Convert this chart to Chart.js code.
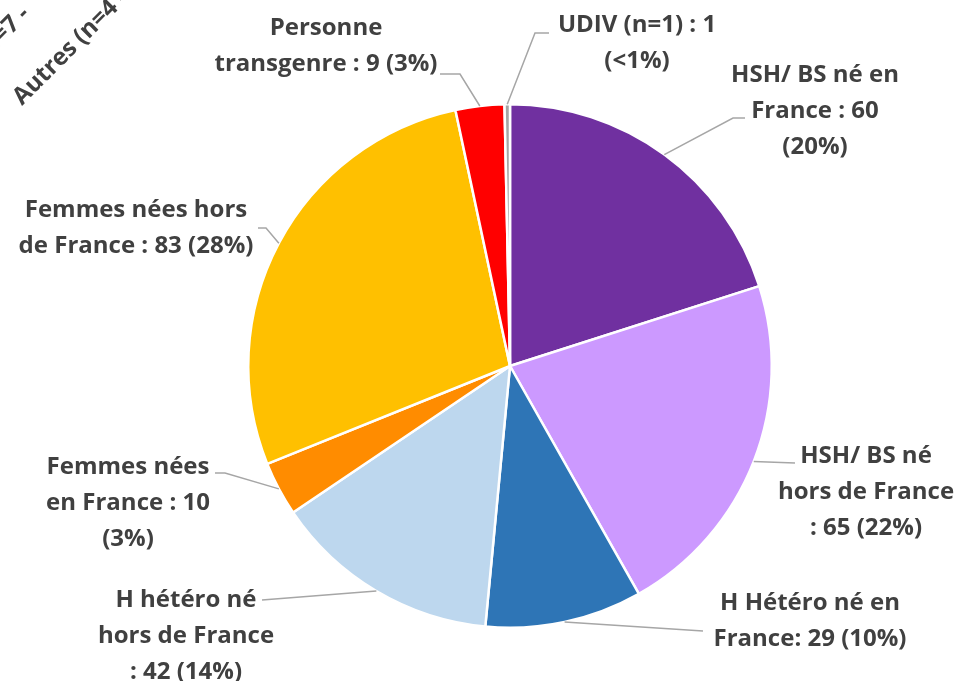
<!DOCTYPE html>
<html lang="fr">
<head>
    <meta charset="UTF-8">
    <title>Répartition par groupe</title>
    <script src="https://cdn.jsdelivr.net/npm/chart.js@4.4.0/dist/chart.umd.min.js"></script>
    <style>
        html, body { margin: 0; padding: 0; background: #fff; }
        #wrap { width: 961px; height: 681px; }
    </style>
</head>
<body>
<div id="wrap"><canvas id="pieChart" width="961" height="681"></canvas></div>
<script>
// data
const categories = [
    "HSH/ BS né en France",
    "HSH/ BS né hors de France",
    "H Hétéro né en France",
    "H hétéro né hors de France",
    "Femmes nées en France",
    "Femmes nées hors de France",
    "Personne transgenre",
    "UDIV (n=1)"
];
const values = [60, 65, 29, 42, 10, 83, 9, 1];
const labelLines = [
    ["HSH/ BS né en", "France : 60", "(20%)"],
    ["HSH/ BS né", "hors de France", ": 65 (22%)"],
    ["H Hétéro né en", "France: 29 (10%)"],
    ["H hétéro né", "hors de France", ": 42 (14%)"],
    ["Femmes nées", "en France : 10", "(3%)"],
    ["Femmes nées hors", "de France : 83 (28%)"],
    ["Personne", "transgenre : 9 (3%)"],
    ["UDIV (n=1) : 1", "(<1%)"]
];
const colors = ["#7030A0", "#CC99FF", "#2E75B6", "#BDD7EE", "#FF8C00", "#FFC000", "#FF0000", "#A5A5A5"];

// label placement: center x, first line y, elbow points of leader line
const labelPos = [
    { x: 815, y: 75,  elbow: [[745, 118], [733, 118]] },
    { x: 866, y: 456, elbow: [[795, 463]] },
    { x: 810, y: 603, elbow: [[703, 631]] },
    { x: 186, y: 600, elbow: [[262, 600]] },
    { x: 128, y: 467, elbow: [[215, 473], [225, 473]] },
    { x: 136, y: 210, elbow: [[258, 228], [266, 228]] },
    { x: 326, y: 28,  elbow: [[440, 74], [460, 74]] },
    { x: 637, y: 25,  elbow: [[549, 33], [535, 33]] }
];

const FONT = "bold 24px 'Open Sans', sans-serif";
const LINE_H = 36;

const labelPlugin = {
    id: "pieLabels",
    afterDraw(chart) {
        const ctx = chart.ctx;
        const meta = chart.getDatasetMeta(0);
        ctx.save();
        meta.data.forEach((arc, i) => {
            const p = labelPos[i];
            const mid = (arc.startAngle + arc.endAngle) / 2;
            const ex = arc.x + Math.cos(mid) * arc.outerRadius;
            const ey = arc.y + Math.sin(mid) * arc.outerRadius;
            ctx.strokeStyle = "#A6A6A6";
            ctx.lineWidth = 1.5;
            ctx.beginPath();
            ctx.moveTo(p.elbow[0][0], p.elbow[0][1]);
            p.elbow.slice(1).forEach(pt => ctx.lineTo(pt[0], pt[1]));
            ctx.lineTo(ex, ey);
            ctx.stroke();

            ctx.fillStyle = "#404040";
            ctx.font = FONT;
            ctx.textAlign = "center";
            ctx.textBaseline = "middle";
            labelLines[i].forEach((t, k) => ctx.fillText(t, p.x, p.y + k * LINE_H));
        });

        // clipped rotated label in the corner
        ctx.translate(22, 106);
        ctx.rotate(-Math.PI / 4);
        ctx.fillStyle = "#404040";
        ctx.font = FONT;
        ctx.textAlign = "left";
        ctx.textBaseline = "alphabetic";
        ctx.fillText("Autres (n=4 -", 0, 0);
        ctx.fillText("(n=7 -", 5, -58);
        ctx.restore();
    }
};

new Chart(document.getElementById("pieChart"), {
    type: "pie",
    data: {
        labels: categories,
        datasets: [{
            data: values,
            backgroundColor: colors,
            borderColor: "#FFFFFF",
            borderWidth: 2.5
        }]
    },
    options: {
        responsive: false,
        animation: false,
        layout: { padding: { top: 103, bottom: 52, left: 247, right: 188 } },
        plugins: {
            legend: { display: false },
            tooltip: { enabled: false }
        }
    },
    plugins: [labelPlugin]
});
</script>
</body>
</html>
